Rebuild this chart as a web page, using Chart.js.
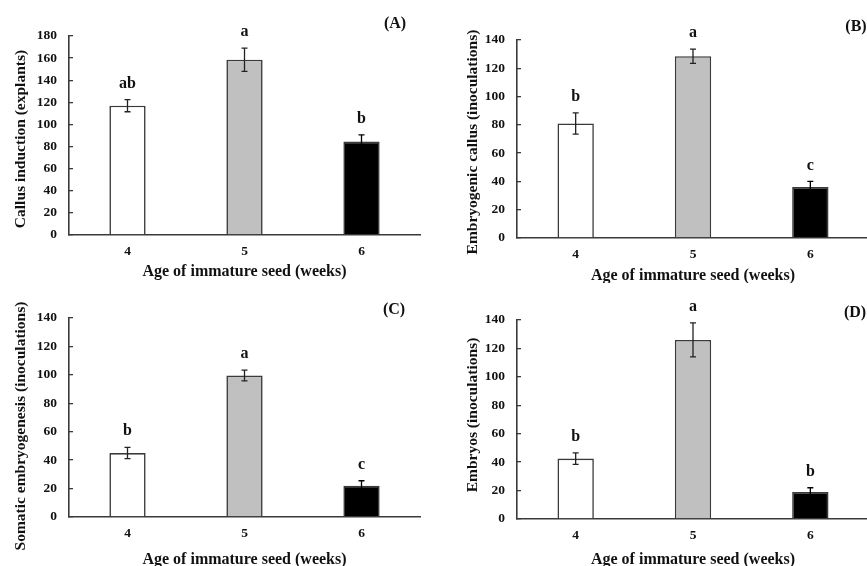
<!DOCTYPE html>
<html>
<head>
<meta charset="utf-8">
<script src="https://cdn.jsdelivr.net/npm/chart.js@4"></script>
<style>
  html, body { margin: 0; padding: 0; background: #fff; overflow: hidden; width: 867px; height: 566px; }
  canvas { position: absolute; }
</style>
</head>
<body>
<canvas id="chartA"></canvas>
<canvas id="chartB"></canvas>
<canvas id="chartC"></canvas>
<canvas id="chartD"></canvas>
<script>
const weeks = ["4", "5", "6"];
const barFills = ["#ffffff", "#c0c0c0", "#000000"];

const callusMean = [117, 158.5, 84.5];
const callusErr = [5.5, 10.5, 6];
const callusLetters = ["ab", "a", "b"];

const embCallusMean = [81, 128.5, 36];
const embCallusErr = [7.5, 5, 4];
const embCallusLetters = ["b", "a", "c"];

const somaticMean = [45, 99.5, 22];
const somaticErr = [4, 3.8, 3.5];
const somaticLetters = ["b", "a", "c"];

const embryoMean = [42.5, 126, 19];
const embryoErr = [4, 12, 3];
const embryoLetters = ["b", "a", "b"];

const yMaxA = 180;
const yMaxOther = 140;
const yStep = 20;
const xTitle = "Age of immature seed (weeks)";

const serif = "'Liberation Serif', 'Times New Roman', serif";
const ink = "#111111";
const lineGray = "#3a3a3a";

// box: canvas left, top, width, height; plot: left, top, right, bottom inside the canvas
const panels = [
  { id: "chartA", tag: "(A)", yTitle: "Callus induction (explants)", mean: callusMean, err: callusErr,
    letters: callusLetters, yMax: yMaxA, box: [0, 0, 433, 283], plot: [69, 36, 420, 235],
    yTitlePos: [21, 139], xTitleY: 272, tagPos: [395, 24] },
  { id: "chartB", tag: "(B)", yTitle: "Embryogenic callus (inoculations)", mean: embCallusMean, err: embCallusErr,
    letters: embCallusLetters, yMax: yMaxOther, box: [430, 0, 440, 283], plot: [87, 40, 439, 238],
    yTitlePos: [43, 142], xTitleY: 276, tagPos: [426, 27] },
  { id: "chartC", tag: "(C)", yTitle: "Somatic embryogenesis (inoculations)", mean: somaticMean, err: somaticErr,
    letters: somaticLetters, yMax: yMaxOther, box: [0, 283, 433, 283], plot: [69, 35, 420, 234],
    yTitlePos: [21, 143], xTitleY: 277, tagPos: [394, 27] },
  { id: "chartD", tag: "(D)", yTitle: "Embryos (inoculations)", mean: embryoMean, err: embryoErr,
    letters: embryoLetters, yMax: yMaxOther, box: [430, 283, 440, 283], plot: [87, 37, 439, 236],
    yTitlePos: [43, 132], xTitleY: 277, tagPos: [425, 30] }
];

const errorBars = {
  id: "errorBars",
  afterDatasetsDraw(chart, args, opts) {
    const ctx = chart.ctx;
    const meta = chart.getDatasetMeta(0);
    const y = chart.scales.y;
    ctx.save();
    ctx.lineWidth = 1.3;
    meta.data.forEach((bar, i) => {
      const v = opts.mean[i];
      const e = opts.err[i];
      const yTop = y.getPixelForValue(v + e);
      const yBot = y.getPixelForValue(v - e);
      ctx.strokeStyle = i === 2 ? "#000" : "#222";
      ctx.beginPath();
      ctx.moveTo(bar.x, yTop);
      ctx.lineTo(bar.x, yBot);
      ctx.moveTo(bar.x - 3, yTop);
      ctx.lineTo(bar.x + 3, yTop);
      ctx.moveTo(bar.x - 3, yBot);
      ctx.lineTo(bar.x + 3, yBot);
      ctx.stroke();
      ctx.fillStyle = ink;
      ctx.font = "bold 16px " + serif;
      ctx.textAlign = "center";
      ctx.textBaseline = "middle";
      ctx.fillText(opts.letters[i], bar.x, yTop - 16);
    });
    ctx.restore();
  }
};

const panelText = {
  id: "panelText",
  afterDraw(chart, args, opts) {
    const ctx = chart.ctx;
    const area = chart.chartArea;
    ctx.save();
    ctx.fillStyle = ink;
    ctx.textAlign = "center";
    ctx.textBaseline = "middle";
    ctx.font = "bold 16px " + serif;
    ctx.fillText(xTitle, (area.left + area.right) / 2, opts.xTitleY);
    ctx.font = "bold 16px " + serif;
    ctx.fillText(opts.tag, opts.tagPos[0], opts.tagPos[1]);
    ctx.translate(opts.yTitlePos[0], opts.yTitlePos[1]);
    ctx.rotate(-Math.PI / 2);
    ctx.font = "bold 15.5px " + serif;
    ctx.fillText(opts.yTitle, 0, 0);
    ctx.restore();
  }
};

panels.forEach((p) => {
  const canvas = document.getElementById(p.id);
  const [bx, by, bw, bh] = p.box;
  const [pl, pt, pr, pb] = p.plot;
  canvas.width = bw;
  canvas.height = bh;
  canvas.style.left = bx + "px";
  canvas.style.top = by + "px";
  canvas.style.width = bw + "px";
  canvas.style.height = bh + "px";

  new Chart(canvas, {
    type: "bar",
    data: {
      labels: weeks,
      datasets: [{
        data: p.mean,
        backgroundColor: barFills,
        borderColor: lineGray,
        borderWidth: 1.6,
        borderSkipped: "start",
        categoryPercentage: 1,
        barPercentage: 0.31
      }]
    },
    options: {
      responsive: false,
      animation: false,
      devicePixelRatio: 1,
      layout: { padding: { top: pt, right: bw - pr, left: 0, bottom: 0 } },
      plugins: {
        legend: { display: false },
        tooltip: { enabled: false },
        errorBars: { mean: p.mean, err: p.err, letters: p.letters },
        panelText: { tag: p.tag, yTitle: p.yTitle, yTitlePos: p.yTitlePos, xTitleY: p.xTitleY, tagPos: p.tagPos }
      },
      scales: {
        x: {
          afterFit: (scale) => { scale.height = bh - pb; },
          grid: { display: false, drawTicks: false },
          border: { display: true, color: lineGray, width: 1.6 },
          ticks: { color: ink, padding: 8, font: { family: serif, weight: "bold", size: 13.5 } }
        },
        y: {
          min: 0,
          max: p.yMax,
          afterFit: (scale) => { scale.width = pl; },
          grid: { drawOnChartArea: false, drawTicks: true, tickLength: -4, color: lineGray, lineWidth: 1.3 },
          border: { display: true, color: lineGray, width: 1.6 },
          ticks: { stepSize: yStep, color: ink, padding: 16, font: { family: serif, weight: "bold", size: 13.5 } }
        }
      }
    },
    plugins: [errorBars, panelText]
  });
});
</script>
</body>
</html>
